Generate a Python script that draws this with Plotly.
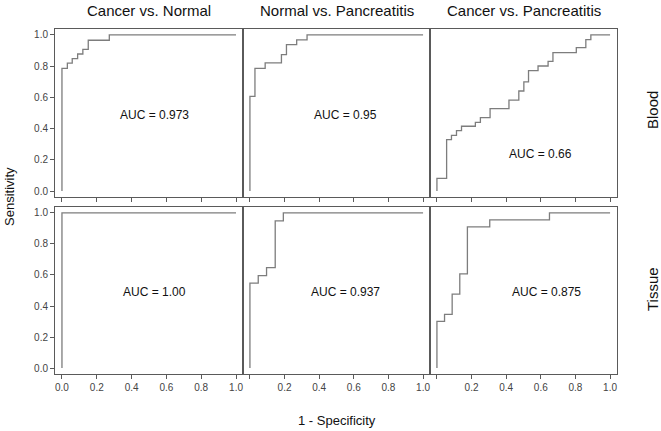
import plotly.graph_objects as go

# ---- data ----
panel_titles = ["Cancer vs. Normal", "Normal vs. Pancreatitis", "Cancer vs. Pancreatitis"]
row_labels = ["Blood", "Tissue"]
tick_vals = [0.0, 0.2, 0.4, 0.6, 0.8, 1.0]
tick_text = ["0.0", "0.2", "0.4", "0.6", "0.8", "1.0"]

blood_cn_fpr = [0, 0, 0.031, 0.059, 0.09, 0.12, 0.151, 0.272, 1.0]
blood_cn_tpr = [0, 0.786, 0.82, 0.848, 0.878, 0.908, 0.966, 1.0, 1.0]

blood_np_fpr = [0, 0, 0.029, 0.088, 0.182, 0.211, 0.27, 0.33, 1.0]
blood_np_tpr = [0, 0.607, 0.786, 0.821, 0.874, 0.938, 0.968, 1.0, 1.0]

blood_cp_fpr = [0, 0, 0.056, 0.084, 0.113, 0.142, 0.222, 0.251, 0.307, 0.416, 0.473,
                0.502, 0.529, 0.584, 0.642, 0.670, 0.805, 0.860, 0.889, 1.0]
blood_cp_tpr = [0, 0.081, 0.329, 0.357, 0.387, 0.415, 0.440, 0.470, 0.528, 0.583, 0.641,
                0.699, 0.771, 0.801, 0.831, 0.887, 0.919, 0.970, 1.0, 1.0]

tissue_cn_fpr = [0, 0, 1.0]
tissue_cn_tpr = [0, 1.0, 1.0]

tissue_np_fpr = [0, 0, 0.048, 0.096, 0.146, 0.193, 1.0]
tissue_np_tpr = [0, 0.547, 0.596, 0.647, 0.949, 1.0, 1.0]

tissue_cp_fpr = [0, 0, 0.044, 0.088, 0.132, 0.176, 0.305, 0.65, 1.0]
tissue_cp_tpr = [0, 0.301, 0.346, 0.476, 0.607, 0.910, 0.955, 1.0, 1.0]

auc_labels = ["AUC = 0.973", "AUC = 0.95", "AUC = 0.66",
              "AUC = 1.00", "AUC = 0.937", "AUC = 0.875"]
auc_x = [0.53, 0.55, 0.60, 0.53, 0.55, 0.63]
auc_y = [0.49, 0.49, 0.24, 0.49, 0.49, 0.49]

curves = [
    (blood_cn_fpr, blood_cn_tpr), (blood_np_fpr, blood_np_tpr), (blood_cp_fpr, blood_cp_tpr),
    (tissue_cn_fpr, tissue_cn_tpr), (tissue_np_fpr, tissue_np_tpr), (tissue_cp_fpr, tissue_cp_tpr),
]

# ---- layout geometry ----
W, H = 661, 431
x_doms = [[55 / W, 243 / W], [243 / W, 430 / W], [430 / W, 617 / W]]
y_doms = [[1 - 197 / H, 1 - 29 / H], [1 - 374 / H, 1 - 207 / H]]

FONT = "Liberation Sans, Arial, sans-serif"
FRAME = "#5a5a5a"
CURVE = "#7d7d7d"

fig = go.Figure()
layout = {}
annotations = []

for i, (fx, ty) in enumerate(curves):
    r, c = divmod(i, 3)
    n = i + 1
    xa = "x" if n == 1 else f"x{n}"
    ya = "y" if n == 1 else f"y{n}"
    fig.add_trace(go.Scatter(x=fx, y=ty, mode="lines", line=dict(color=CURVE, width=1.3, shape="hv"),
                             xaxis=xa, yaxis=ya, showlegend=False, hoverinfo="skip"))
    xkey = "xaxis" if n == 1 else f"xaxis{n}"
    ykey = "yaxis" if n == 1 else f"yaxis{n}"
    if r == 1:
        ttext = tick_text if c == 0 else [""] + tick_text[1:]
        show_x = True
    else:
        ttext = tick_text
        show_x = False
    layout[xkey] = dict(domain=x_doms[c], anchor=ya, range=[-0.04, 1.04], showgrid=False, zeroline=False,
                        showline=True, mirror=True, linecolor=FRAME, linewidth=1,
                        ticks="outside", ticklen=4, tickcolor=FRAME, tickwidth=1,
                        tickvals=tick_vals, ticktext=ttext, showticklabels=show_x,
                        tickfont=dict(family=FONT, size=10, color="#444"), fixedrange=True)
    layout[ykey] = dict(domain=y_doms[r], anchor=xa, range=[-0.038, 1.038], showgrid=False, zeroline=False,
                        showline=True, mirror=True, linecolor=FRAME, linewidth=1,
                        ticks="outside" if c == 0 else "", ticklen=4, tickcolor=FRAME, tickwidth=1,
                        tickvals=tick_vals, ticktext=tick_text, showticklabels=(c == 0),
                        tickfont=dict(family=FONT, size=10, color="#444"), fixedrange=True)
    annotations.append(dict(x=auc_x[i], y=auc_y[i], xref=xa, yref=ya, text=auc_labels[i],
                            showarrow=False, font=dict(family=FONT, size=12, color="#111")))

for c, t in enumerate(panel_titles):
    annotations.append(dict(x=(x_doms[c][0] + x_doms[c][1]) / 2, y=1 - 11 / H, xref="paper", yref="paper",
                            text=t, showarrow=False, font=dict(family=FONT, size=15, color="#111"),
                            xanchor="center", yanchor="middle"))

row_y = [1 - 110 / H, 1 - 289 / H]
for r, t in enumerate(row_labels):
    annotations.append(dict(x=652 / W, y=row_y[r], xref="paper", yref="paper", text=t, textangle=-90,
                            showarrow=False, font=dict(family=FONT, size=15, color="#111"),
                            xanchor="center", yanchor="middle"))

annotations.append(dict(x=9 / W, y=1 - 197 / H, xref="paper", yref="paper", text="Sensitivity",
                        textangle=-90, showarrow=False, font=dict(family=FONT, size=13, color="#111"),
                        xanchor="center", yanchor="middle"))
annotations.append(dict(x=337 / W, y=1 - 420 / H, xref="paper", yref="paper", text="1 - Specificity",
                        showarrow=False, font=dict(family=FONT, size=13, color="#111"),
                        xanchor="center", yanchor="middle"))

fig.update_layout(width=W, height=H, margin=dict(l=0, r=0, t=0, b=0),
                  paper_bgcolor="white", plot_bgcolor="white",
                  annotations=annotations, **layout)

fig.write_html("out.html", config={"displayModeBar": False},
               post_script="document.body.style.margin='0';document.body.style.overflow='hidden';")
